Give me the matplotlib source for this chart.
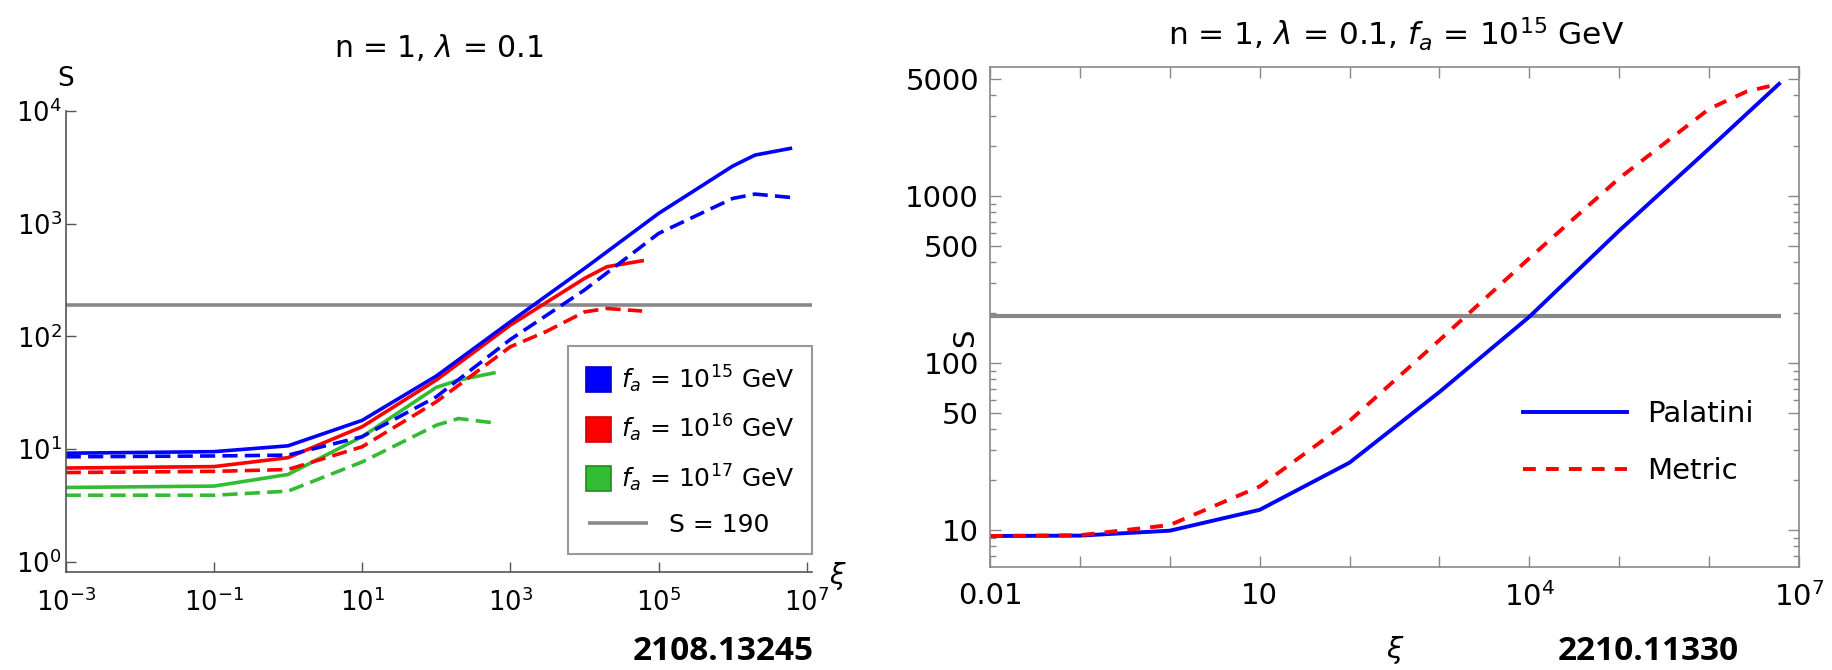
import matplotlib
matplotlib.use('Agg')
import matplotlib.pyplot as plt
from matplotlib.patches import Rectangle, Patch
from matplotlib.lines import Line2D
from matplotlib.legend_handler import HandlerBase
from matplotlib.ticker import FixedLocator, FixedFormatter, NullLocator

plt.rcParams['font.family'] = ['DejaVu Sans']
plt.rcParams['mathtext.fontset'] = 'dejavusans'

# ---------------- data: left panel (2108.13245) ----------------
xi_blue = [1e-3, 1e-1, 1, 10, 100, 1e3, 1e4, 1e5, 1e6, 2e6, 6e6]
S_blue_solid = [9.2, 9.5, 10.7, 18.0, 44.5, 135, 401, 1234, 3245, 4064, 4657]
S_blue_dashed = [8.55, 8.7, 8.85, 12.9, 29.1, 94, 258, 820, 1676, 1832, 1711]

xi_red_solid = [1e-3, 1e-1, 1, 10, 100, 1e3, 1e4, 2e4, 6e4]
S_red_solid = [6.8, 7.0, 8.4, 15.8, 41, 126, 327, 415, 469]
xi_red_dashed = [1e-3, 1e-1, 1, 10, 100, 1e3, 3e3, 1e4, 2e4, 6e4]
S_red_dashed = [6.2, 6.35, 6.6, 10.5, 26.3, 81, 110, 165, 177, 168]

xi_green = [1e-3, 1e-1, 1, 10, 100, 2e2, 6e2]
S_green_solid = [4.57, 4.7, 5.96, 12.9, 35.3, 41, 47.5]
S_green_dashed = [3.9, 3.9, 4.24, 7.7, 16.3, 18.7, 17.1]

left_legend_labels = [r'$f_a$ = 10$^{15}$ GeV', r'$f_a$ = 10$^{16}$ GeV',
                      r'$f_a$ = 10$^{17}$ GeV', '      S = 190']
left_xticks = [1e-3, 1e-1, 1e1, 1e3, 1e5, 1e7]
left_xticklabels = [r'$10^{-3}$', r'$10^{-1}$', r'$10^{1}$', r'$10^{3}$', r'$10^{5}$', r'$10^{7}$']
left_yticks = [1e0, 1e1, 1e2, 1e3, 1e4]
left_yticklabels = [r'$10^{0}$', r'$10^{1}$', r'$10^{2}$', r'$10^{3}$', r'$10^{4}$']

# ---------------- data: right panel (2210.11330) ----------------
xi_pal = [0.01, 0.1, 1, 10, 100, 1e3, 1e4, 1e5, 1e6, 6e6]
S_pal = [9.2, 9.25, 9.9, 13.2, 25.3, 67, 189, 620, 1920, 4690]
xi_met = [0.01, 0.1, 1, 10, 100, 1e3, 1e4, 1e5, 1e6, 2.6e6, 6e6]
S_met = [9.2, 9.3, 10.7, 18.2, 45, 137, 424, 1277, 3320, 4217, 4690]

right_legend_labels = ['Palatini', 'Metric']
right_xticks = [1e-2, 1e-1, 1e0, 1e1, 1e2, 1e3, 1e4, 1e5, 1e6, 1e7]
right_xticklabels = ['0.01', '', '', '10', '', '', r'$10^{4}$', '', '', r'$10^{7}$']
right_yticks = [10, 50, 100, 500, 1000, 5000]
right_yticklabels = ['10', '50', '100', '500', '1000', '5000']
right_yminor = [7, 8, 9, 20, 30, 40, 60, 70, 80, 90, 200, 300, 400,
                600, 700, 800, 900, 2000, 3000, 4000]

S_THRESHOLD = 190

BLUE = '#0000ff'
RED = '#ff0000'
GREEN = '#33bb33'
GRAY = '#888888'

W, H = 1833, 670
fig = plt.figure(figsize=(W / 100, H / 100), dpi=100)


def px_axes(x0, y0, x1, y1):
    return fig.add_axes([x0 / W, 1 - y1 / H, (x1 - x0) / W, (y1 - y0) / H])


# ====================== LEFT ======================
axL = px_axes(65.7, 111, 812, 572)
axL.set_xscale('log')
axL.set_yscale('log')
axL.set_xlim(1e-3, 10 ** 7.07)
axL.set_ylim(10 ** -0.09, 1e4)

lwL = 2.6
dL = (4.2, 2.0)
axL.axhline(S_THRESHOLD, color=GRAY, lw=2.6, zorder=1)
axL.plot(xi_green, S_green_dashed, color=GREEN, lw=lwL, dashes=dL)
axL.plot(xi_green, S_green_solid, color=GREEN, lw=lwL)
axL.plot(xi_red_dashed, S_red_dashed, color=RED, lw=lwL, dashes=dL)
axL.plot(xi_red_solid, S_red_solid, color=RED, lw=lwL)
axL.plot(xi_blue, S_blue_dashed, color=BLUE, lw=lwL, dashes=dL)
axL.plot(xi_blue, S_blue_solid, color=BLUE, lw=lwL)

for s in ['top', 'right']:
    axL.spines[s].set_visible(False)
for s in ['left', 'bottom']:
    axL.spines[s].set_color('#555555')
    axL.spines[s].set_linewidth(1.2)

axL.xaxis.set_major_locator(FixedLocator(left_xticks))
axL.xaxis.set_major_formatter(FixedFormatter(left_xticklabels))
axL.yaxis.set_major_locator(FixedLocator(left_yticks))
axL.yaxis.set_major_formatter(FixedFormatter(left_yticklabels))
axL.xaxis.set_minor_locator(NullLocator())
axL.yaxis.set_minor_locator(NullLocator())
axL.tick_params(axis='both', which='major', direction='in', length=7, width=1.0,
                color='#555555', labelsize=18.5, labelcolor='black')
axL.tick_params(axis='x', pad=12)
axL.tick_params(axis='y', pad=3)

axL.text(0.5, 1.1367, r'n = 1, $\lambda$ = 0.1', transform=axL.transAxes,
         ha='center', va='center', fontsize=21.5)
axL.text(0.0, 1.069, 'S', transform=axL.transAxes, ha='center', va='center', fontsize=19)
axL.text(1.035, -0.008, r'$\xi$', transform=axL.transAxes, ha='center', va='center', fontsize=20)


class SquareHandler(HandlerBase):
    def __init__(self, size):
        super().__init__()
        self.size = size

    def create_artists(self, legend, orig_handle, xdescent, ydescent, width, height, fontsize, trans):
        s = self.size
        r = Rectangle((-xdescent + (width - s) / 2, -ydescent + (height - s) / 2), s, s,
                      facecolor=orig_handle.get_facecolor(), edgecolor=orig_handle.get_edgecolor(),
                      lw=1.2, transform=trans)
        return [r]


class LongLineHandler(HandlerBase):
    def __init__(self, offset, length):
        super().__init__()
        self.offset = offset
        self.length = length

    def create_artists(self, legend, orig_handle, xdescent, ydescent, width, height, fontsize, trans):
        y = -ydescent + height / 2
        x0 = -xdescent + self.offset
        ln = Line2D([x0, x0 + self.length], [y, y], color=orig_handle.get_color(),
                    lw=orig_handle.get_linewidth(), solid_capstyle='butt', transform=trans)
        return [ln]


hb = Patch(facecolor=BLUE, edgecolor='#0000cc')
hr = Patch(facecolor=RED, edgecolor='#cc0000')
hg = Patch(facecolor=GREEN, edgecolor='#1a8f1a')
hl = Line2D([], [], color=GRAY, lw=2.6)
legL = axL.legend([hb, hr, hg, hl], left_legend_labels,
                  handler_map={Patch: SquareHandler(18), Line2D: LongLineHandler(1.5, 43)},
                  loc='lower right', bbox_to_anchor=(1.0, 0.039), borderaxespad=0,
                  fontsize=18, handlelength=1.0, handleheight=1.0, handletextpad=0.4,
                  labelspacing=0.72, borderpad=0.7, fancybox=False, framealpha=1,
                  edgecolor='#999999')
legL.get_frame().set_linewidth(1.5)

# ====================== RIGHT ======================
axR = px_axes(990, 66.7, 1799, 566.7)
axR.set_xscale('log')
axR.set_yscale('log')
axR.set_xlim(0.01, 1e7)
axR.set_ylim(10 ** 0.78, 10 ** 3.774)

axR.hlines(S_THRESHOLD, 0.01, 6.3e6, color=GRAY, lw=3.0, zorder=1)
axR.plot(xi_pal, S_pal, color=BLUE, lw=2.8, label=right_legend_labels[0])
axR.plot(xi_met, S_met, color=RED, lw=2.8, dashes=(3.3, 2.6), label=right_legend_labels[1])

for s in axR.spines.values():
    s.set_color(GRAY)
    s.set_linewidth(1.2)

axR.xaxis.set_major_locator(FixedLocator(right_xticks))
axR.xaxis.set_major_formatter(FixedFormatter(right_xticklabels))
axR.xaxis.set_minor_locator(NullLocator())
axR.yaxis.set_major_locator(FixedLocator(right_yticks))
axR.yaxis.set_major_formatter(FixedFormatter(right_yticklabels))
axR.yaxis.set_minor_locator(FixedLocator(right_yminor))
axR.yaxis.set_minor_formatter(FixedFormatter([''] * len(right_yminor)))
axR.tick_params(axis='both', which='both', direction='in', top=True, right=True,
                color=GRAY, labelcolor='black', labelsize=21, width=1.0)
axR.tick_params(axis='both', which='major', length=8)
axR.tick_params(axis='both', which='minor', length=4.5)
axR.tick_params(axis='x', pad=11)
axR.tick_params(axis='y', pad=8)

axR.text(0.502, 1.065, r'n = 1, $\lambda$ = 0.1, $f_a$ = 10$^{15}$ GeV', transform=axR.transAxes,
         ha='center', va='center', fontsize=22.5)

legR = axR.legend(loc='upper left', bbox_to_anchor=(0.6585, 0.333), borderaxespad=0,
                  borderpad=0, frameon=False, fontsize=21, handlelength=3.56,
                  handletextpad=0.72, labelspacing=0.98)

fig.text(965.6 / W, 1 - 338 / H, 'S', rotation=90, ha='center', va='center', fontsize=21)
fig.text(1395 / W, 1 - 650 / H, r'$\xi$', ha='center', va='center', fontsize=21)

fig.text(723 / W, 1 - 652 / H, '2108.13245', ha='center', va='center', fontsize=24,
         fontweight='bold', family='Open Sans')
fig.text(1648 / W, 1 - 652 / H, '2210.11330', ha='center', va='center', fontsize=24,
         fontweight='bold', family='Open Sans')

fig.savefig('out.png', dpi=100)
